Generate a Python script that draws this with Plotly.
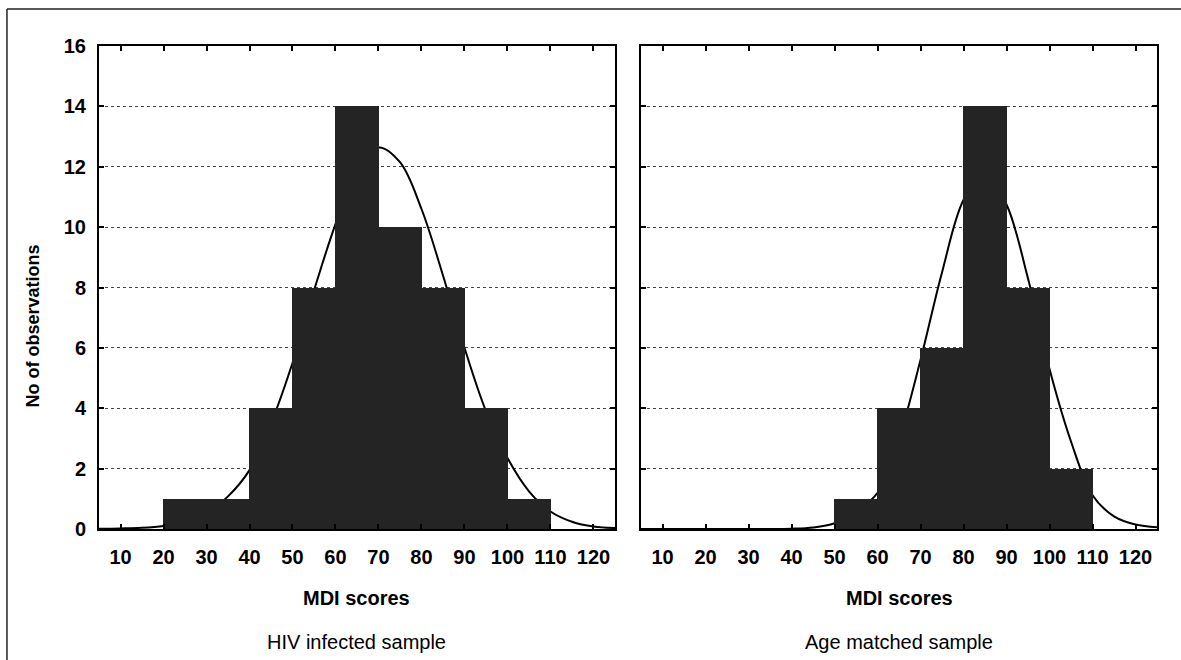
import plotly.graph_objects as go

# ---- data ----
bin_left_hiv = [20, 30, 40, 50, 60, 70, 80, 90, 100]
count_hiv = [1, 1, 4, 8, 14, 10, 8, 4, 1]

bin_left_age = [50, 60, 70, 80, 90, 100]
count_age = [1, 4, 6, 14, 8, 2]

bin_width = 10

curve_x = [5, 10, 15, 20, 25, 30, 35, 40, 45, 50, 55, 60, 65, 70, 75,
           80, 85, 90, 95, 100, 105, 110, 115, 120, 125]
curve_hiv = [0.01, 0.02, 0.04, 0.1, 0.24, 0.52, 1.08, 1.95, 3.5, 5.5, 7.9,
             10.1, 11.9, 12.64, 12.15, 10.6, 8.4, 6.0, 3.9, 2.35, 1.25, 0.58,
             0.24, 0.08, 0.03]
curve_age = [0.0, 0.0, 0.0, 0.0, 0.0, 0.0, 0.0, 0.01, 0.05, 0.19, 0.56, 1.2,
             3.0, 5.6, 8.5, 10.9, 11.8, 10.75, 8.3, 5.3, 2.9, 1.12, 0.42,
             0.15, 0.06]

x_ticks = [10, 20, 30, 40, 50, 60, 70, 80, 90, 100, 110, 120]
y_ticks = [0, 2, 4, 6, 8, 10, 12, 14, 16]

panel_titles = ["HIV infected sample", "Age matched sample"]
x_title = "MDI scores"
y_title = "No of observations"

BAR_COLOR = "#242424"
FONT = "Liberation Sans, Arial, sans-serif"
X_RANGE = [5, 125]
Y_RANGE = [0, 16]

fig = go.Figure()

# curves on the base axes, bars on overlaying axes so that bars hide the curve
panels = [
    ("x", "y", "x3", "y3", bin_left_hiv, count_hiv, curve_hiv),
    ("x2", "y2", "x4", "y4", bin_left_age, count_age, curve_age),
]
for xa, ya, xb, yb, edges, counts, curve in panels:
    fig.add_trace(go.Scatter(
        x=curve_x, y=curve, mode="lines", line=dict(color="black", width=2, shape="spline"),
        xaxis=xa, yaxis=ya, showlegend=False, hoverinfo="skip"))
    fig.add_trace(go.Bar(
        x=edges, y=counts, width=bin_width + 0.08, offset=-0.04,
        marker=dict(color=BAR_COLOR, line=dict(width=0)),
        xaxis=xb, yaxis=yb, showlegend=False))

axis_common = dict(
    showline=True, linecolor="black", linewidth=2, mirror="ticks",
    ticks="inside", ticklen=5, tickcolor="black", tickwidth=1.5,
    zeroline=False, layer="above traces",
)
tick_font = dict(family=FONT, size=20, color="black", weight="bold")
xcommon = dict(axis_common, range=X_RANGE, tickvals=x_ticks, showgrid=False,
               tickfont=tick_font, ticklabelstandoff=9)
ycommon = dict(axis_common, range=Y_RANGE, tickvals=y_ticks, showgrid=True,
               gridcolor="#444444", griddash="dot", gridwidth=1,
               tickfont=tick_font, ticklabelstandoff=7)
hidden = dict(visible=False, showgrid=False, zeroline=False)

fig.update_layout(
    width=1181, height=660,
    margin=dict(l=99, r=24, t=46, b=131),
    paper_bgcolor="white", plot_bgcolor="white",
    bargap=0,
    xaxis=dict(xcommon, domain=[0, 0.4877], anchor="y"),
    yaxis=dict(ycommon, domain=[0, 1], anchor="x"),
    xaxis2=dict(xcommon, domain=[0.5123, 1], anchor="y2"),
    yaxis2=dict(ycommon, domain=[0, 1], anchor="x2", showticklabels=False),
    xaxis3=dict(hidden, range=X_RANGE, overlaying="x", anchor="y3"),
    yaxis3=dict(hidden, range=Y_RANGE, overlaying="y", anchor="x3"),
    xaxis4=dict(hidden, range=X_RANGE, overlaying="x2", anchor="y4"),
    yaxis4=dict(hidden, range=Y_RANGE, overlaying="y2", anchor="x4"),
    font=dict(family=FONT, color="black"),
)

annotations = []
centers = [0.2438, 0.7562]
for cx, title in zip(centers, panel_titles):
    annotations.append(dict(text="<b>" + x_title + "</b>", x=cx, y=-0.142, xref="paper", yref="paper",
                            showarrow=False, font=dict(family=FONT, size=20, color="black"),
                            xanchor="center", yanchor="middle"))
    annotations.append(dict(text=title, x=cx, y=-0.234, xref="paper", yref="paper",
                            showarrow=False, font=dict(family=FONT, size=20, color="black"),
                            xanchor="center", yanchor="middle"))
annotations.append(dict(text="<b>" + y_title + "</b>", x=-0.0620, y=0.420, xref="paper", yref="paper",
                        showarrow=False, textangle=-90,
                        font=dict(family=FONT, size=18, color="black"),
                        xanchor="center", yanchor="middle"))
fig.update_layout(annotations=annotations)

# outer frame (left and top edges visible in the page)
fig.add_shape(type="line", xref="paper", yref="paper", x0=-0.087, x1=-0.087, y0=-0.28, y1=1.0766,
              line=dict(color="#222222", width=1.5))
fig.add_shape(type="line", xref="paper", yref="paper", x0=-0.087, x1=1.03, y0=1.0766, y1=1.0766,
              line=dict(color="#222222", width=1.5))

fig.write_html("out.html", config={"displayModeBar": False},
               post_script="document.body.style.margin='0px';")
